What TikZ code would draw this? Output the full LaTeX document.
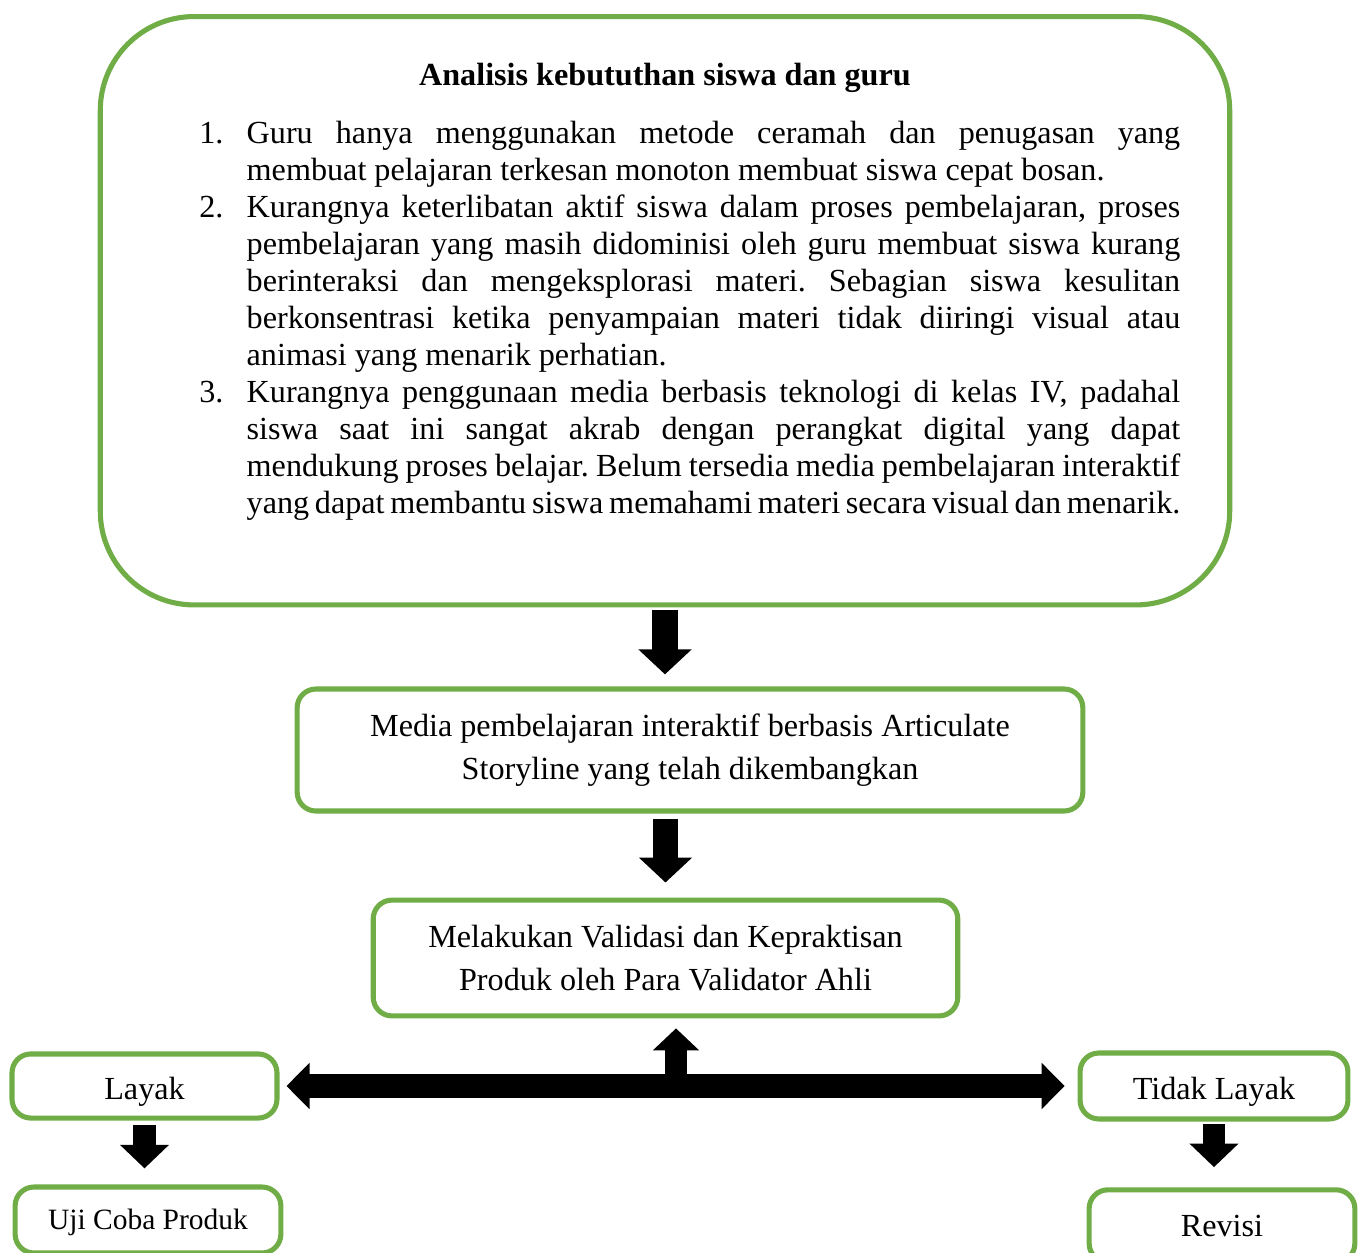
\documentclass[tikz,border=0pt]{standalone}
\usepackage{fontspec}
\setmainfont{Liberation Serif}
\usepackage{enumitem}
\usetikzlibrary{arrows.meta}
\definecolor{hijau}{HTML}{70AD47}

\begin{document}
\begin{tikzpicture}[
			x=0.0131cm, y=-0.0131cm,
			kotak/.style={
					draw=hijau,
					line width=1.9pt,
					rounded corners=7pt,
					fill=white,
					align=center,
					inner sep=0pt,
					font=\fontsize{12pt}{16pt}\selectfont
				},
			hasil/.style={
					kotak,
					text height=12pt,
					text depth=2pt
				},
			panah/.style={
					line width=9.6pt,
					-{Triangle[length=9.3pt,width=19.3pt]}
				},
			panahkecil/.style={
					line width=8.4pt,
					-{Triangle[length=8.8pt,width=17.8pt]}
				}
		]
		\useasboundingbox (0,0) rectangle (1362,1253);
		\clip (0,0) rectangle (1362,1253);

		\node[kotak,
			anchor=north,
			rounded corners=35pt,
			text width=384.3pt,
			inner xsep=18.45pt,
			inner ysep=17.55pt,
			align=justify,
			font=\fontsize{12pt}{13.8pt}\selectfont
		] (analisis) at (665,14) {%
			\tolerance=10000 \hyphenpenalty=10000 \frenchspacing
			{\centering\textbf{Analisis kebututhan siswa dan guru}\par}
			\begin{enumerate}[leftmargin=36.15pt, labelwidth=27.5pt, labelsep=8.65pt,
					topsep=7.8pt, itemsep=0pt, parsep=0pt, partopsep=0pt]
				\item Guru hanya menggunakan metode ceramah dan penugasan yang\linebreak
				      membuat pelajaran terkesan monoton membuat siswa cepat bosan.
				\item Kurangnya keterlibatan aktif siswa dalam proses pembelajaran, proses\linebreak
				      pembelajaran yang masih didominisi oleh guru membuat siswa kurang\linebreak
				      berinteraksi dan mengeksplorasi materi. Sebagian siswa kesulitan\linebreak
				      berkonsentrasi ketika penyampaian materi tidak diiringi visual atau\linebreak
				      animasi yang menarik perhatian.
				\item Kurangnya penggunaan media berbasis teknologi di kelas IV, padahal\linebreak
				      siswa saat ini sangat akrab dengan perangkat digital yang dapat\linebreak
				      mendukung proses belajar. Belum tersedia media pembelajaran interaktif\linebreak
				      yang dapat membantu siswa memahami materi secara visual dan menarik.
			\end{enumerate}
			\par\nointerlineskip\vbox to 6pt{}};

		\node[kotak, minimum width=293pt, minimum height=45.5pt] (media) at (690,750)
		{Media pembelajaran interaktif berbasis Articulate \\ Storyline yang telah dikembangkan};
		\node[kotak, minimum width=218pt, minimum height=43.2pt] (validasi) at (665.5,958)
		{Melakukan Validasi dan Kepraktisan \\ Produk oleh Para Validator Ahli};

		% hasil validasi
		\node[hasil, minimum width=98.8pt, minimum height=23.9pt] (layak) at (144.5,1086) {Layak};
		\node[hasil, minimum width=99.9pt, minimum height=24.6pt] (tidak) at (1214,1086) {Tidak Layak};
		\node[hasil, minimum width=99.1pt, minimum height=24.6pt, text height=10pt, text depth=2.7pt,
			font=\fontsize{11pt}{13pt}\selectfont] (uji) at (148,1220) {Uji Coba Produk};
		\node[kotak, minimum width=99.1pt, minimum height=27pt] (revisi) at (1222,1226) {Revisi};

		\coordinate (simpang) at (676,1087);

		\draw[panah, shorten <=1.1pt, shorten >=4.5pt] (analisis.south) -- (analisis.south |- media.north);
		\draw[panah, shorten <=2.2pt, shorten >=5.6pt] (validasi.north |- media.south) -- (validasi.north);
		\draw[line width=8.6pt, {Triangle[length=8.6pt,width=16.8pt]}-{Triangle[length=8.6pt,width=16.8pt]},
			shorten <=2.6pt, shorten >=4.8pt] (layak.east) -- (tidak.west);
		\draw[line width=8.2pt, -{Triangle[length=8.2pt,width=16.8pt]}, shorten >=3.7pt]
		(simpang) -- (simpang |- validasi.south);
		\draw[panahkecil, shorten <=1.5pt, shorten >=6pt] (layak.south) -- (layak.south |- uji.north);
		\draw[panahkecil, shorten <=1.1pt, shorten >=7.5pt] (tidak.south) -- (tidak.south |- revisi.north);
	\end{tikzpicture}
\end{document}
